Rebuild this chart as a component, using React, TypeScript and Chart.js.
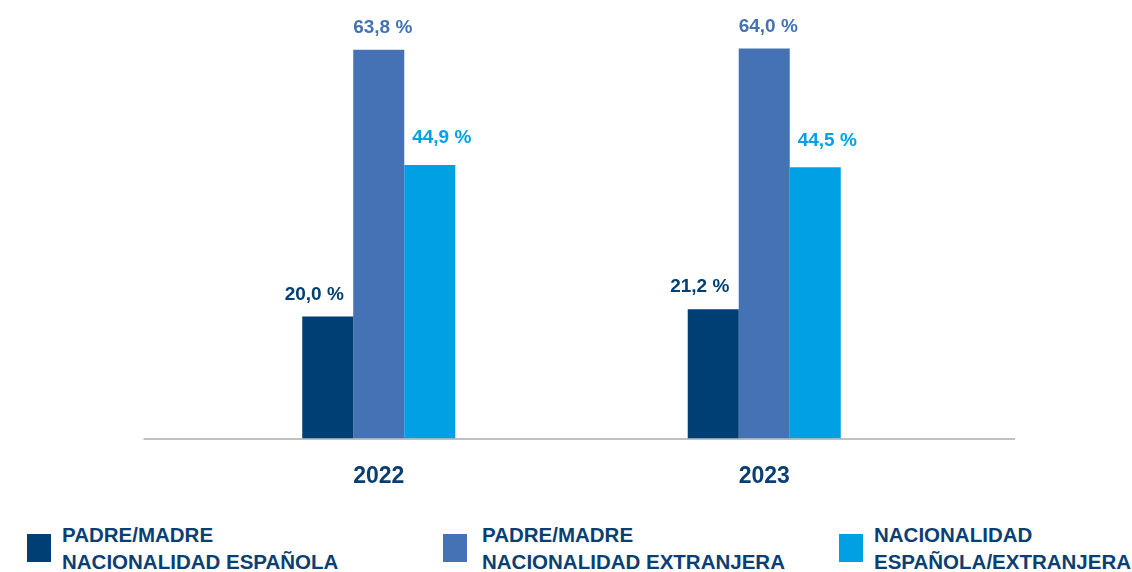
import React, { useEffect, useRef } from "react";
import { Chart, registerables } from "chart.js";

Chart.register(...registerables);

const categories = ["2022", "2023"];
const seriesNames = [
  ["PADRE/MADRE", "NACIONALIDAD ESPAÑOLA"],
  ["PADRE/MADRE", "NACIONALIDAD EXTRANJERA"],
  ["NACIONALIDAD", "ESPAÑOLA/EXTRANJERA"],
];
const padreMadreEspanola = [20.0, 21.2];
const padreMadreExtranjera = [63.8, 64.0];
const nacionalidadMixta = [44.9, 44.5];

const colors = ["#003F73", "#4472B5", "#00A1E4"];
const textNavy = "#0B3F74";
const FONT = "'Liberation Sans', Arial, sans-serif";

const labelDx = [-13.5, 4, 12];
const labelDy = [22, 22, 27];

const fmt = (v: number) => v.toFixed(1).replace(".", ",") + " %";

const valueLabels = {
  id: "valueLabels",
  afterDatasetsDraw(chart: any) {
    const ctx = chart.ctx;
    ctx.save();
    ctx.font = `bold 19px ${FONT}`;
    ctx.textAlign = "center";
    ctx.textBaseline = "middle";
    chart.data.datasets.forEach((ds: any, i: number) => {
      const meta = chart.getDatasetMeta(i);
      meta.data.forEach((bar: any, j: number) => {
        ctx.fillStyle = colors[i];
        ctx.fillText(fmt(ds.data[j]), bar.x + labelDx[i], bar.y - labelDy[i]);
      });
    });
    ctx.restore();
  },
};

const baseLine = {
  id: "baseLine",
  beforeDatasetsDraw(chart: any) {
    const ctx = chart.ctx;
    const y = chart.scales.y.getPixelForValue(0);
    const { left, right } = chart.chartArea;
    ctx.save();
    ctx.strokeStyle = "#C0C0C0";
    ctx.lineWidth = 2;
    ctx.beginPath();
    ctx.moveTo(left - 42.5, y + 0.5);
    ctx.lineTo(right + 58, y + 0.5);
    ctx.stroke();
    ctx.restore();
  },
};

export default function App() {
  const ref = useRef<HTMLCanvasElement | null>(null);

  useEffect(() => {
    document.body.style.margin = "0";
    if (!ref.current) return;
    const chart = new Chart(ref.current, {
      type: "bar",
      data: {
        labels: categories,
        datasets: [
          { label: seriesNames[0].join(" "), data: padreMadreEspanola, backgroundColor: colors[0] },
          { label: seriesNames[1].join(" "), data: padreMadreExtranjera, backgroundColor: colors[1] },
          { label: seriesNames[2].join(" "), data: nacionalidadMixta, backgroundColor: colors[2] },
        ],
      },
      options: {
        animation: false,
        responsive: false,
        maintainAspectRatio: false,
        layout: { padding: { left: 186, right: 175, top: 12, bottom: 0 } },
        datasets: { bar: { barPercentage: 1, categoryPercentage: 0.397 } },
        plugins: { legend: { display: false }, tooltip: { enabled: false } },
        scales: {
          x: {
            grid: { display: false },
            border: { display: false },
            ticks: {
              color: textNavy,
              font: { family: FONT, size: 23, weight: "bold" },
              padding: 16,
            },
          },
          y: { display: false, min: 0, max: 70 },
        },
      },
      plugins: [baseLine, valueLabels],
    });
    return () => chart.destroy();
  }, []);

  const legendPos = [
    { sq: 27, tx: 62 },
    { sq: 443, tx: 482 },
    { sq: 839, tx: 874 },
  ];

  return (
    <div style={{ position: "relative", width: 1132, height: 572, background: "#fff", overflow: "hidden" }}>
      <canvas ref={ref} width={1132} height={506} style={{ position: "absolute", left: 0, top: 0, width: 1132, height: 506 }} />
      {seriesNames.map((lines, i) => (
        <React.Fragment key={i}>
          <div
            style={{
              position: "absolute",
              left: legendPos[i].sq,
              top: 534,
              width: 24,
              height: 28,
              background: colors[i],
            }}
          />
          <div
            style={{
              position: "absolute",
              left: legendPos[i].tx,
              top: 521,
              fontFamily: FONT,
              fontWeight: "bold",
              fontSize: 20.5,
              lineHeight: "27px",
              color: textNavy,
              whiteSpace: "nowrap",
            }}
          >
            {lines.map((l, k) => (
              <div key={k}>{l}</div>
            ))}
          </div>
        </React.Fragment>
      ))}
    </div>
  );
}
